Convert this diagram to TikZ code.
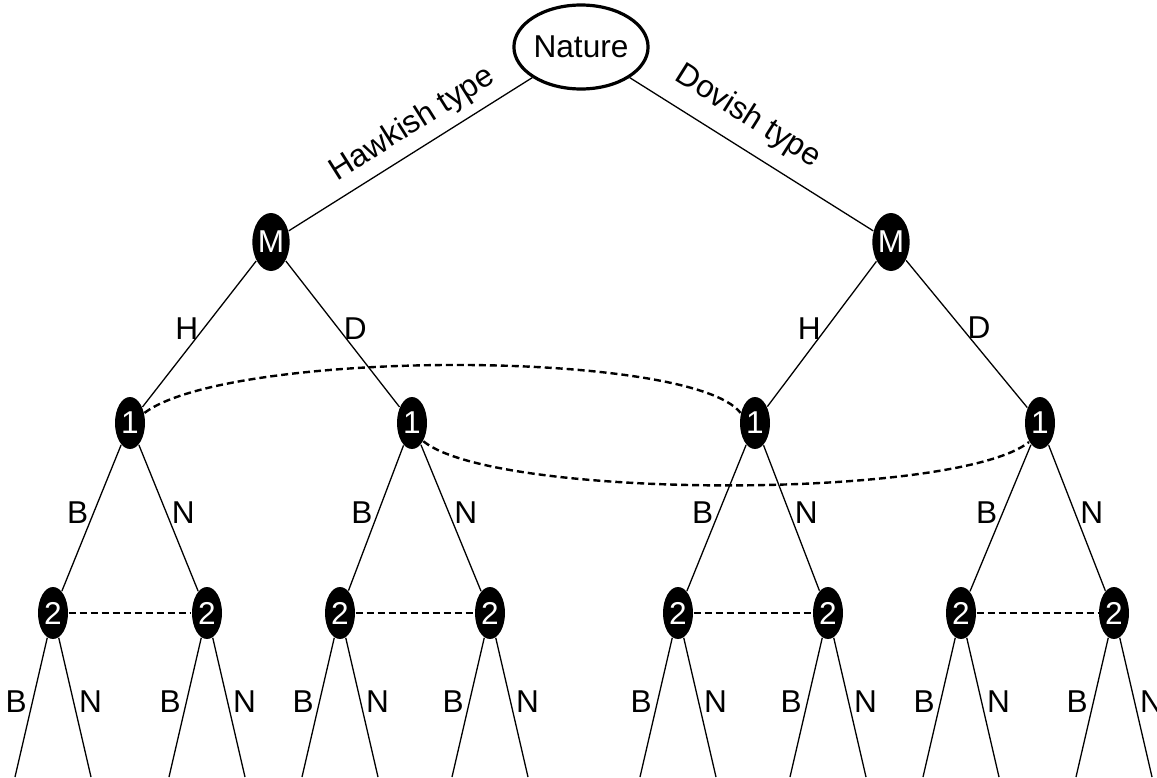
\documentclass[tikz,border=0pt]{standalone}
\usepackage{fontspec}
\setmainfont{Liberation Sans}
\usepackage{tikz}
\usetikzlibrary{shapes.geometric}
\tikzstyle{chance} = [ellipse,draw,line width=1.6pt,minimum width=63pt,minimum height=42pt,inner sep=0pt]
\tikzstyle{player} = [ellipse,fill=black,text=white,inner sep=0pt,minimum width=15pt,minimum height=26pt]
\tikzstyle{infoset} = [line width=1.2pt,dash pattern=on 3.5pt off 2pt]
\tikzstyle{move} = [inner sep=2.5pt,pos=0.46]

\begin{document}
\begin{tikzpicture}[x=0.5pt,y=-0.5pt,line width=0.65pt,
        every node/.style={font=\fontsize{15.8}{18}\selectfont}]
  \useasboundingbox (0,0) rectangle (1157,777);

  \node[chance] (nature) at (581,47) {Nature};

  % sender
  \node[player,minimum width=15.5pt,minimum height=29pt] (mh) at (271,242) {M};
  \node[player,minimum width=15.5pt,minimum height=29pt] (md) at (891,242) {M};

  % player 1
  \node[player] (hh) at (130,423) {1};
  \node[player] (hd) at (412,423) {1};
  \node[player] (dh) at (755,423) {1};
  \node[player] (dd) at (1040,423) {1};

  % player 2
  \node[player] (hhb) at (53,613) {2};
  \node[player] (hhn) at (207,613) {2};
  \node[player] (hdb) at (340,613) {2};
  \node[player] (hdn) at (490,613) {2};
  \node[player] (dhb) at (678,613) {2};
  \node[player] (dhn) at (828,613) {2};
  \node[player] (ddb) at (961,613) {2};
  \node[player] (ddn) at (1114,613) {2};

  % leaves
  \coordinate (l1) at (15,777);   \coordinate (l2) at (91,777);
  \coordinate (l3) at (169,777);  \coordinate (l4) at (245,777);
  \coordinate (l5) at (302,777);  \coordinate (l6) at (378,777);
  \coordinate (l7) at (452,777);  \coordinate (l8) at (528,777);
  \coordinate (l9) at (640,777);  \coordinate (l10) at (716,777);
  \coordinate (l11) at (790,777); \coordinate (l12) at (866,777);
  \coordinate (l13) at (923,777); \coordinate (l14) at (999,777);
  \coordinate (l15) at (1076,777);\coordinate (l16) at (1152,777);

  % nature moves
  \draw (mh) -- node[sloped,above=1pt,pos=0.56] {Hawkish type} (nature);
  \draw (nature) -- node[sloped,above=4pt,pos=0.42] {Dovish type} (md);

  % messages
  \draw (mh) -- node[move,left] {H} (hh);
  \draw (mh) -- node[move,right] {D} (hd);
  \draw (md) -- node[move,left] {H} (dh);
  \draw (md) -- node[move,right] {D} (dd);

  % player 1 moves
  \draw (hh) -- node[move,left] {B} (hhb);
  \draw (hh) -- node[move,right] {N} (hhn);
  \draw (hd) -- node[move,left] {B} (hdb);
  \draw (hd) -- node[move,right] {N} (hdn);
  \draw (dh) -- node[move,left] {B} (dhb);
  \draw (dh) -- node[move,right] {N} (dhn);
  \draw (dd) -- node[move,left] {B} (ddb);
  \draw (dd) -- node[move,right] {N} (ddn);

  % player 2 moves
  \draw (hhb) -- node[move,left] {B} (l1);
  \draw (hhb) -- node[move,right] {N} (l2);
  \draw (hhn) -- node[move,left] {B} (l3);
  \draw (hhn) -- node[move,right] {N} (l4);
  \draw (hdb) -- node[move,left] {B} (l5);
  \draw (hdb) -- node[move,right] {N} (l6);
  \draw (hdn) -- node[move,left] {B} (l7);
  \draw (hdn) -- node[move,right] {N} (l8);
  \draw (dhb) -- node[move,left] {B} (l9);
  \draw (dhb) -- node[move,right] {N} (l10);
  \draw (dhn) -- node[move,left] {B} (l11);
  \draw (dhn) -- node[move,right] {N} (l12);
  \draw (ddb) -- node[move,left] {B} (l13);
  \draw (ddb) -- node[move,right] {N} (l14);
  \draw (ddn) -- node[move,left] {B} (l15);
  \draw (ddn) -- node[move,right] {N} (l16);

  % information sets
  \draw[infoset] (hh.35) .. controls (230,349) and (691,349) .. (dh.145);
  \draw[infoset] (hd.-58) .. controls (495,500) and (957,500) .. (dd.-120);
  \draw[infoset] (hhb) -- (hhn);
  \draw[infoset] (hdb) -- (hdn);
  \draw[infoset] (dhb) -- (dhn);
  \draw[infoset] (ddb) -- (ddn);

\end{tikzpicture}
\end{document}
